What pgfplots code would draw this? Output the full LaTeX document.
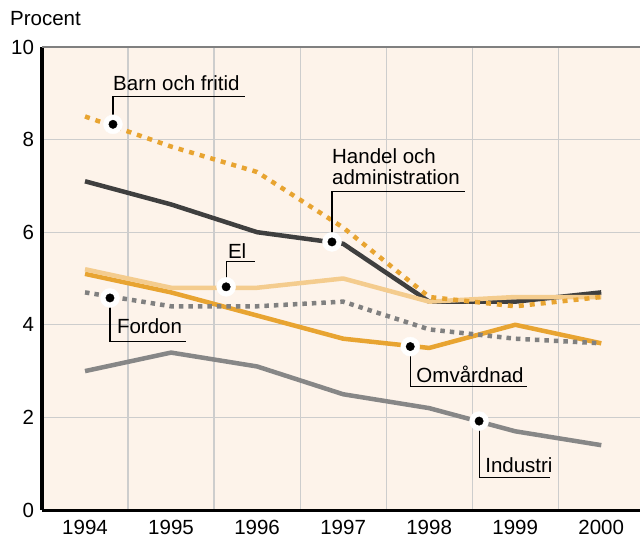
\documentclass[border=0pt]{standalone}
\usepackage{fontspec}
\setmainfont{Liberation Sans}
\usepackage{pgfplots}
\pgfplotsset{compat=1.18}
\definecolor{bg}{HTML}{FDF3EA}
\definecolor{gridc}{HTML}{CDCDCD}
\definecolor{org}{HTML}{E8A431}
\definecolor{lorg}{HTML}{F4CC8E}
\definecolor{dgray}{HTML}{3F3F3F}
\definecolor{mgray}{HTML}{808080}
\definecolor{igray}{HTML}{878787}
\begin{document}
\fontsize{20.5bp}{24bp}\selectfont
\begin{tikzpicture}
\useasboundingbox (-42bp,-31bp) rectangle (598bp,510bp);
\begin{axis}[
 at={(0,0)}, anchor=south west,
 scale only axis, width=598bp, height=463bp,
 xmin=1993.5, xmax=2000.45, ymin=0, ymax=10,
 xtick={1994,...,2000}, ytick={0,2,...,10},
 minor xtick={1994.5,1995.5,...,1999.5},
 xminorgrids, ymajorgrids,
 grid style={gridc, line width=1.2bp},
 minor grid style={gridc, line width=1.2bp},
 major tick length=0, minor tick length=0,
 axis background/.style={fill=bg},
 axis x line*=bottom, axis y line*=left,
 axis line style={-, black, line width=3bp},
 /pgf/number format/1000 sep={},
 /pgf/number format/assume math mode=true,
 ticklabel style={font=\fontsize{20.5bp}{24bp}\selectfont},
 xticklabel style={inner sep=0pt, yshift=-10bp},
 yticklabel style={xshift=-1bp},
 every axis plot/.append style={line join=round},
]
% Industri
\addplot[igray, line width=4.5bp] coordinates {(1994,3.0)(1995,3.4)(1996,3.1)(1997,2.5)(1998,2.2)(1999,1.7)(2000,1.4)};
% Omvardnad
\addplot[org, line width=4.5bp] coordinates {(1994,5.1)(1995,4.7)(1996,4.2)(1997,3.7)(1998,3.5)(1999,4.0)(2000,3.6)};
% Fordon
\addplot[mgray, line width=4.5bp, dash pattern=on 4.5bp off 5bp] coordinates {(1994,4.7)(1995,4.4)(1996,4.4)(1997,4.5)(1998,3.9)(1999,3.7)(2000,3.6)};
% Handel
\addplot[dgray, line width=4.5bp] coordinates {(1994,7.1)(1995,6.6)(1996,6.0)(1997,5.75)(1998,4.5)(1999,4.5)(2000,4.7)};
% El
\addplot[lorg, line width=4.5bp] coordinates {(1994,5.2)(1995,4.8)(1996,4.8)(1997,5.0)(1998,4.5)(1999,4.6)(2000,4.6)};
% Barn och fritid
\addplot[org, line width=4.5bp, dash pattern=on 5bp off 6bp] coordinates {(1994,8.5)(1995,7.85)(1996,7.3)(1997,6.1)(1998,4.6)(1999,4.4)(2000,4.6)};

% leader lines
\draw[black, line width=1.1bp] (axis cs:1994.325,8.33) -- (axis cs:1994.325,8.94) -- (axis cs:1995.86,8.94);
\draw[black, line width=1.1bp] (axis cs:1996.87,5.79) -- (axis cs:1996.87,6.87) -- (axis cs:1998.42,6.87);
\draw[black, line width=1.1bp] (axis cs:1995.64,4.82) -- (axis cs:1995.64,5.36) -- (axis cs:1995.98,5.36);
\draw[black, line width=1.1bp] (axis cs:1994.29,4.58) -- (axis cs:1994.29,3.63) -- (axis cs:1995.17,3.63);
\draw[black, line width=1.1bp] (axis cs:1997.78,3.53) -- (axis cs:1997.78,2.66) -- (axis cs:1999.14,2.66);
\draw[black, line width=1.1bp] (axis cs:1998.58,1.92) -- (axis cs:1998.58,0.71) -- (axis cs:1999.40,0.71);

% dots
\addplot[white, only marks, mark=*, mark size=9.5bp, mark options={fill=white, draw=white}] coordinates {(1994.325,8.33)(1996.87,5.79)(1995.64,4.82)(1994.29,4.58)(1997.78,3.53)(1998.58,1.92)};
\addplot[black, only marks, mark=*, mark size=4.2bp, mark options={fill=black, draw=black}] coordinates {(1994.325,8.33)(1996.87,5.79)(1995.64,4.82)(1994.29,4.58)(1997.78,3.53)(1998.58,1.92)};

% labels
\node[anchor=base west, inner sep=0] at (axis cs:1994.325,9.07) {Barn och fritid};
\node[anchor=base west, inner sep=0] at (axis cs:1996.87,7.49) {Handel och};
\node[anchor=base west, inner sep=0] at (axis cs:1996.87,7.02) {administration};
\node[anchor=base west, inner sep=0] at (axis cs:1995.66,5.44) {El};
\node[anchor=base west, inner sep=0] at (axis cs:1994.37,3.82) {Fordon};
\node[anchor=base west, inner sep=0] at (axis cs:1997.85,2.76) {Omvårdnad};
\node[anchor=base west, inner sep=0] at (axis cs:1998.65,0.82) {Industri};
\end{axis}
\draw[mgray, line width=1.5bp] (0,463bp) -- (598bp,463bp);
\node[anchor=base west, inner sep=0] at (-32bp,484bp) {Procent};
\end{tikzpicture}
\end{document}
